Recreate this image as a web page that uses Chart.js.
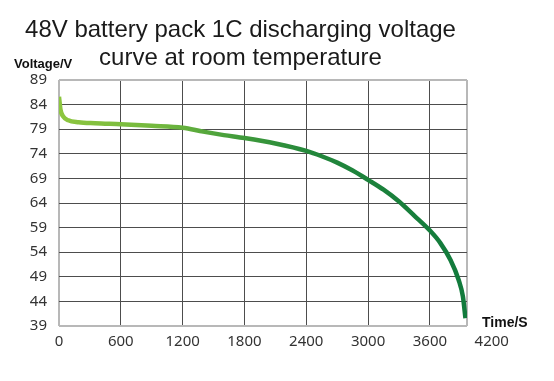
<!DOCTYPE html>
<html>
<head>
<meta charset="utf-8">
<script src="https://cdn.jsdelivr.net/npm/chart.js@4.4.1/dist/chart.umd.min.js"></script>
<style>
  html, body { margin: 0; padding: 0; background: #fff; }
</style>
</head>
<body>
<canvas id="chart" width="554" height="381"></canvas>
<script>
// chart text
const titleLines = ['48V battery pack 1C discharging voltage', 'curve at room temperature'];
const yAxisLabel = 'Voltage/V';
const xAxisLabel = 'Time/S';

// discharge curve
const timeSec = [0, 15, 40, 90, 190, 350, 600, 900, 1200, 1400, 1600, 1800, 2100, 2400,
                 2550, 2700, 2850, 3000, 3150, 3300, 3450, 3600, 3700, 3800, 3880, 3920, 3945];
const voltage = [85.6, 82.9, 81.6, 80.8, 80.4, 80.2, 80.0, 79.7, 79.3, 78.5, 77.8, 77.2, 76.1, 74.6,
                 73.5, 72.2, 70.6, 68.7, 66.7, 64.3, 61.4, 58.4, 55.9, 52.4, 48.3, 45.0, 40.6];

// axes
const xTickValues = [0, 600, 1200, 1800, 2400, 3000, 3600, 4200];
const xTickLabels = ['0', '600', '1200', '1800', '2400', '3000', '3600', '4200'];
const xBoxEnd = 3960; // the plot frame stops short of the last label
const yTickValues = [39, 44, 49, 54, 59, 64, 69, 74, 79, 84, 89];

const gridDark = '#4d4d4d';
const gridLight = '#b8b8b8';
const textColor = '#333333';

const axisText = {
    id: 'axisText',
    afterDraw(chart) {
        const ctx = chart.ctx;
        const area = chart.chartArea;
        ctx.save();
        ctx.fillStyle = '#111';
        ctx.textBaseline = 'alphabetic';
        ctx.font = 'bold 13px "Liberation Sans", Arial, sans-serif';
        ctx.textAlign = 'left';
        ctx.fillText(yAxisLabel, area.left - 45, area.top - 12.5);
        ctx.font = 'bold 14px "Liberation Sans", Arial, sans-serif';
        ctx.fillText(xAxisLabel, area.right + 15, area.bottom + 0.5);
        ctx.restore();
    }
};

function lineGradient(context) {
    const chart = context.chart;
    const area = chart.chartArea;
    if (!area) return '#4aa23c';
    const xs = chart.scales.x;
    const g = chart.ctx.createLinearGradient(xs.getPixelForValue(0), 0, xs.getPixelForValue(xBoxEnd), 0);
    g.addColorStop(0, '#8dc63f');
    g.addColorStop(0.25, '#72b83e');
    g.addColorStop(0.45, '#3f9a3b');
    g.addColorStop(0.62, '#23873b');
    g.addColorStop(1, '#117a3c');
    return g;
}

new Chart(document.getElementById('chart'), {
    type: 'line',
    data: {
        datasets: [{
            data: timeSec.map((t, i) => ({ x: t, y: voltage[i] })),
            borderColor: lineGradient,
            borderWidth: 4.5,
            pointRadius: 0,
            cubicInterpolationMode: 'monotone',
            fill: false
        }]
    },
    options: {
        responsive: false,
        animation: false,
        layout: { padding: { left: 14, right: 87, top: 0, bottom: 0 } },
        plugins: {
            legend: { display: false },
            tooltip: { enabled: false },
            title: {
                display: true,
                text: titleLines,
                color: '#1a1a1a',
                font: { family: '"Liberation Sans", Arial, sans-serif', size: 24, weight: 'normal', lineHeight: '28px' },
                padding: { top: 16, bottom: 8 }
            }
        },
        scales: {
            x: {
                type: 'linear',
                min: 0,
                max: xBoxEnd,
                afterBuildTicks: scale => {
                    scale.ticks = xTickValues.concat([xBoxEnd]).sort((a, b) => a - b).map(v => ({ value: v }));
                },
                afterFit: scale => { scale.height = 55; },
                grid: {
                    drawTicks: false,
                    color: c => {
                        const v = c.tick ? c.tick.value : null;
                        if (v === 0 || v === xBoxEnd) return gridLight;
                        if (v > xBoxEnd) return 'rgba(0,0,0,0)';
                        return gridDark;
                    },
                    lineWidth: c => {
                        const v = c.tick ? c.tick.value : null;
                        return (v === 0 || v === xBoxEnd) ? 2 : 1;
                    }
                },
                border: { display: false },
                ticks: {
                    autoSkip: false,
                    maxRotation: 0,
                    padding: 7,
                    color: textColor,
                    font: { family: '"Noto Sans", sans-serif', size: 15 },
                    callback: v => {
                        const i = xTickValues.indexOf(v);
                        return i < 0 ? '' : xTickLabels[i];
                    }
                }
            },
            y: {
                min: 39,
                max: 89,
                afterBuildTicks: scale => {
                    scale.ticks = yTickValues.map(v => ({ value: v }));
                },
                afterFit: scale => { scale.width = 45; },
                grid: {
                    drawTicks: false,
                    color: c => {
                        const v = c.tick ? c.tick.value : null;
                        return (v === 39 || v === 89) ? gridLight : gridDark;
                    },
                    lineWidth: c => {
                        const v = c.tick ? c.tick.value : null;
                        return (v === 39 || v === 89) ? 2 : 1;
                    }
                },
                border: { display: false },
                ticks: {
                    autoSkip: false,
                    padding: 12,
                    color: textColor,
                    font: { family: '"Noto Sans", sans-serif', size: 15 }
                }
            }
        }
    },
    plugins: [axisText]
});
</script>
</body>
</html>
